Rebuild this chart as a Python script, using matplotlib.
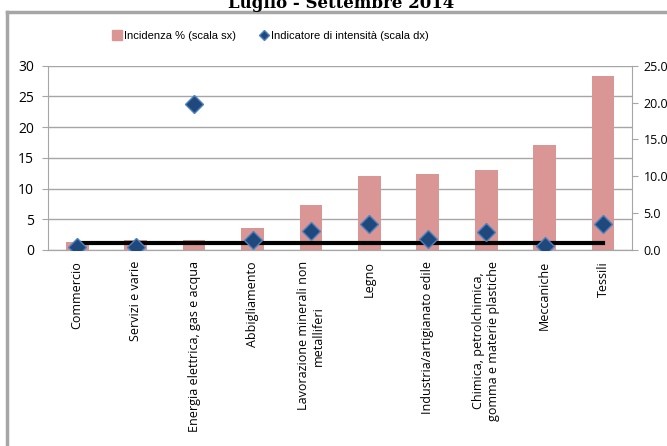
import matplotlib.pyplot as plt
from matplotlib.lines import Line2D
import numpy as np

categories = [
    "Commercio",
    "Servizi e varie",
    "Energia elettrica, gas e acqua",
    "Abbigliamento",
    "Lavorazione minerali non\nmetalliferi",
    "Legno",
    "Industria/artigianato edile",
    "Chimica, petrolchimica,\ngomma e materie plastiche",
    "Meccaniche",
    "Tessili",
]
incidenza = [1.3, 1.7, 1.7, 3.6, 7.4, 12.0, 12.4, 13.0, 17.1, 28.3]
intensita = [0.37, 0.35, 19.8, 1.36, 2.55, 3.5, 1.5, 2.4, 0.55, 3.5]
riferimento = 1.0

BAR_COLOR = "#D99694"
DIAMOND_FACE = "#1F497D"
DIAMOND_EDGE = "#4F81BD"
GRID_COLOR = "#A6A6A6"

plt.rcParams["font.family"] = ["Open Sans", "DejaVu Sans"]

fig = plt.figure(figsize=(6.67, 4.46), dpi=100)
ax = fig.add_axes([0.072, 0.4395, 0.876, 0.413])
ax2 = ax.twinx()

x = np.arange(len(categories))
ax.bar(x, incidenza, width=0.39, color=BAR_COLOR, zorder=2)
ax2.plot(x, intensita, linestyle="none", marker="D", markersize=9,
         markerfacecolor=DIAMOND_FACE, markeredgecolor=DIAMOND_EDGE,
         markeredgewidth=1, zorder=4)
ax2.plot(x, [riferimento] * len(x), color="black", linewidth=3, zorder=3)

ax.set_xlim(-0.5, len(categories) - 0.5)
ax.set_ylim(0, 30)
ax.set_yticks(range(0, 31, 5))
ax2.set_ylim(0, 25)
ax2.set_yticks(range(0, 26, 5))
ax2.set_yticklabels([f"{v:.1f}" for v in range(0, 26, 5)])

ax.grid(axis="y", color=GRID_COLOR, linewidth=1, zorder=0)
ax.set_axisbelow(True)

for a in (ax, ax2):
    a.spines["top"].set_visible(False)
    a.spines["left"].set_color(GRID_COLOR)
    a.spines["right"].set_color(GRID_COLOR)
    a.spines["bottom"].set_color(GRID_COLOR)
ax.spines["right"].set_visible(False)
ax2.spines["left"].set_visible(False)

ax.tick_params(axis="y", labelsize=10, color=GRID_COLOR, length=4, pad=6)
ax2.tick_params(axis="y", labelsize=9, color=GRID_COLOR, length=4, pad=4)
ax.tick_params(axis="x", length=0, pad=8)
ax.set_xticks(x)
ax.set_xticklabels(categories, rotation=90, fontsize=9, va="top", ha="center",
                   multialignment="center")

handles = [
    Line2D([], [], linestyle="none", marker="s", markersize=7,
           markerfacecolor=BAR_COLOR, markeredgecolor=BAR_COLOR),
    Line2D([], [], linestyle="none", marker="D", markersize=5.5,
           markerfacecolor=DIAMOND_FACE, markeredgecolor=DIAMOND_EDGE),
]
fig.legend(handles, ["Incidenza % (scala sx)", "Indicatore di intensità (scala dx)"],
           loc="center", bbox_to_anchor=(0.405, 0.92), ncol=2, frameon=False,
           prop={"family": "Liberation Sans", "size": 8},
           handletextpad=0.1, columnspacing=2.0, handlelength=1)

fig.text(0.512, 1 - 8 / 446, "Luglio - Settembre 2014", ha="center", va="baseline",
         fontsize=12, fontweight="bold", family="DejaVu Serif")

# cornice grigia
fig.add_artist(Line2D([7 / 667, 7 / 667], [0, 1 - 11.5 / 446], transform=fig.transFigure,
                      color=GRID_COLOR, linewidth=2.5))
fig.add_artist(Line2D([7 / 667, 1], [1 - 11.5 / 446, 1 - 11.5 / 446],
                      transform=fig.transFigure, color=GRID_COLOR, linewidth=2.5))

fig.savefig("out.png", dpi=100)
